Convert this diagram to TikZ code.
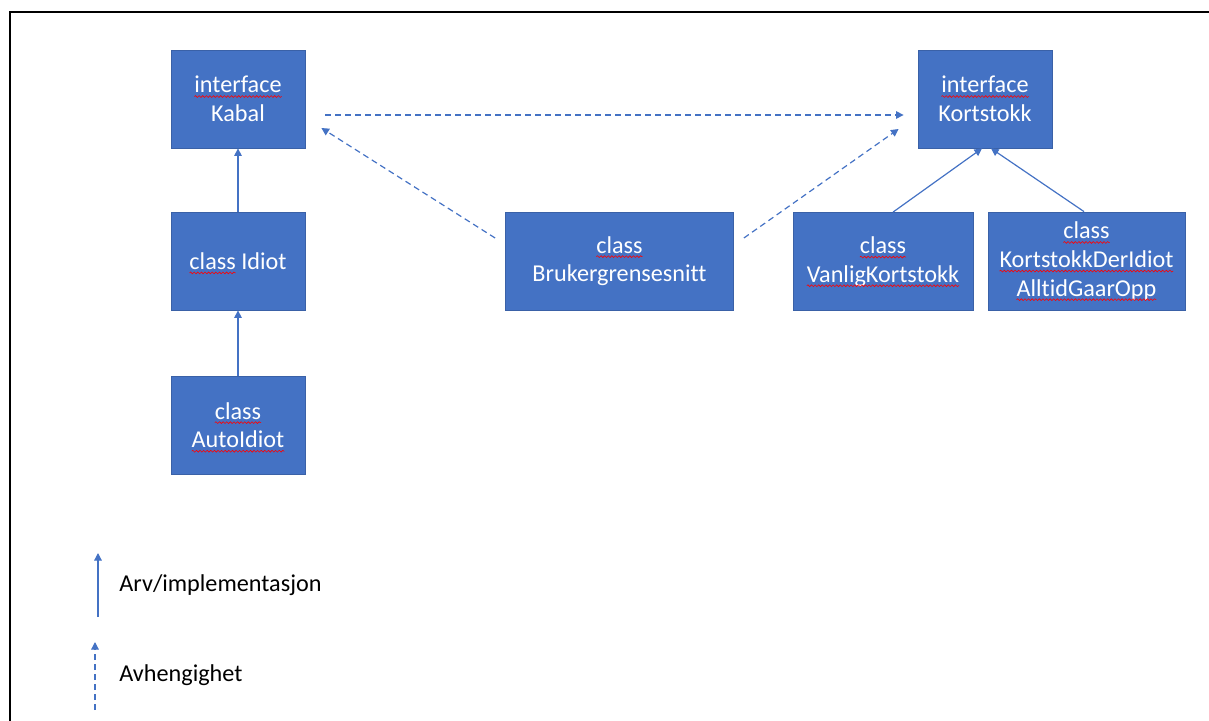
\documentclass[tikz,border=0pt]{standalone}
\usepackage{fontspec}
\setmainfont{Carlito}[Ligatures=NoCommon]
\usetikzlibrary{arrows.meta,decorations.pathmorphing}
\definecolor{umlblue}{HTML}{4472C4}
\newcommand\stave[1]{\tikz[baseline=(ord.base)]{\node[draw=none, fill=none, minimum width=0pt, minimum height=0pt, inner sep=0pt, outer sep=0pt] (ord) {#1};
    \draw[overlay, red, line width=0.3pt, decorate, decoration={snake, amplitude=0.45pt, segment length=1.8pt}]
        ([yshift=-1.8pt]ord.base west) -- ([yshift=-1.8pt]ord.base east);}}
\begin{document}
\begin{tikzpicture}[x=0.5pt, y=-0.5pt,
        every node/.style={font=\fontsize{12.1}{14.3}\selectfont},
        klasse/.style={draw=umlblue!85!black, fill=umlblue, text=white, align=center, minimum width=67pt, minimum height=49pt, inner sep=0pt, line width=0.4pt},
        arv/.style={draw=umlblue, line width=0.6pt, -{Triangle[width=3.8pt,length=3.8pt]}},
        avh/.style={arv, dash pattern=on 3pt off 2pt}]
    \useasboundingbox (0,0) rectangle (1209,721);
    \draw[line width=1pt] (10,721) -- (10,12) -- (1209,12);

    % klasser og grensesnitt
    \node[klasse] (kabal) at (238,99) {\stave{interface}\\Kabal};
    \node[klasse] (idiot) at (238,261) {\stave{class} Idiot};
    \node[klasse] (autoidiot) at (238,425) {\stave{class}\\\stave{AutoIdiot}};
    \node[klasse, minimum width=114pt] (bruker) at (619.5,261) {\stave{class}\\Brukergrensesnitt};
    \node[klasse] (kortstokk) at (985,99) {\stave{interface}\\Kortstokk};
    \node[klasse, minimum width=90pt] (vanlig) at (883,261.5) {\stave{class}\\\stave{VanligKortstokk}};
    \node[klasse, minimum width=98.5pt] (deridiot) at (1086.5,261) {\stave{class}\\\stave{KortstokkDerIdiot}\\\stave{AlltidGaarOpp}};

    % arv
    \draw[arv] (idiot) -- (kabal);
    \draw[arv] (autoidiot) -- (idiot);
    \draw[arv] ([xshift=5pt]vanlig.north) -- ([xshift=-1.5pt]kortstokk.south);
    \draw[arv] ([xshift=-1.25pt]deridiot.north) -- ([xshift=3pt]kortstokk.south);

    % avhengighet
    \draw[avh] ([shift={(20,16)}]kabal.east) -- ([shift={(-14,16)}]kortstokk.west);
    \draw[avh] ([shift={(-10,-23)}]bruker.west) -- ([shift={(16,29)}]kabal.east);
    \draw[avh] ([shift={(10,-23)}]bruker.east) -- ([shift={(-19,30)}]kortstokk.west);

    % forklaring
    \coordinate (arvfra) at (98,617);
    \coordinate (arvtil) at (98,553);
    \coordinate (avhfra) at (95,710);
    \coordinate (avhtil) at (95,642);
    \draw[arv] (arvfra) -- (arvtil);
    \draw[avh] (avhfra) -- (avhtil);
    \node[anchor=west, inner sep=0pt] (arvtekst) at (119,585) {Arv/implementasjon};
    \node[anchor=west, inner sep=0pt] (avhtekst) at (119,675) {Avhengighet};
\end{tikzpicture}
\end{document}
